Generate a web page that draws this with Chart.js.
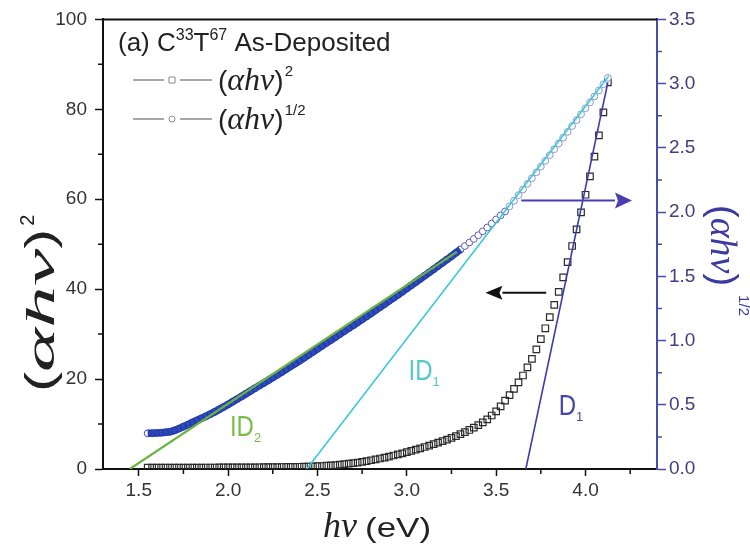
<!DOCTYPE html>
<html>
<head>
<meta charset="utf-8">
<script src="https://cdn.jsdelivr.net/npm/chart.js@4.4.1/dist/chart.umd.min.js"></script>
<style>
  body { margin: 0; background: #fff; }
  #wrap { width: 750px; height: 546px; }
</style>
</head>
<body>
<div id="wrap"><canvas id="tauc" width="750" height="546"></canvas></div>
<script>
const SANS = '"Liberation Sans", Arial, sans-serif';
const SERIF = '"Liberation Serif", "Times New Roman", serif';

// photon energy h nu (eV)
const energy = [
  1.55, 1.575, 1.6, 1.625, 1.65, 1.675, 1.7, 1.725, 1.75, 1.775,
  1.8, 1.825, 1.85, 1.875, 1.9, 1.925, 1.95, 1.975, 2.0, 2.025,
  2.05, 2.075, 2.1, 2.125, 2.15, 2.175, 2.2, 2.225, 2.25, 2.275,
  2.3, 2.325, 2.35, 2.375, 2.4, 2.425, 2.45, 2.475, 2.5, 2.525,
  2.55, 2.575, 2.6, 2.625, 2.65, 2.675, 2.7, 2.725, 2.75, 2.775,
  2.8, 2.825, 2.85, 2.875, 2.9, 2.925, 2.95, 2.975, 3.0, 3.025,
  3.05, 3.075, 3.1, 3.125, 3.15, 3.175, 3.2, 3.225, 3.25, 3.275,
  3.3, 3.325, 3.35, 3.375, 3.4, 3.425, 3.45, 3.475, 3.5, 3.525,
  3.55, 3.575, 3.6, 3.625, 3.65, 3.675, 3.7, 3.725, 3.75, 3.775,
  3.8, 3.825, 3.85, 3.875, 3.9, 3.925, 3.95, 3.975, 4.0, 4.025,
  4.05, 4.075, 4.1, 4.125
];

// (a h nu)^2  -> left axis, open squares
const alphaSq = [
  0.30, 0.30, 0.30, 0.30, 0.30, 0.30, 0.31, 0.31, 0.31, 0.31,
  0.32, 0.32, 0.32, 0.33, 0.33, 0.33, 0.34, 0.34, 0.35, 0.35,
  0.36, 0.36, 0.37, 0.38, 0.38, 0.39, 0.40, 0.41, 0.42, 0.43,
  0.44, 0.45, 0.46, 0.48, 0.50, 0.52, 0.55, 0.58, 0.62, 0.67,
  0.73, 0.80, 0.88, 0.97, 1.07, 1.18, 1.30, 1.43, 1.57, 1.74,
  1.95, 2.14, 2.34, 2.55, 2.77, 3.00, 3.24, 3.49, 3.75, 4.02,
  4.30, 4.59, 4.89, 5.20, 5.52, 5.85, 6.19, 6.55, 6.93, 7.33,
  7.75, 8.20, 8.68, 9.19, 9.74, 10.35, 11.05, 11.90, 12.80, 13.95,
  15.20, 16.45, 17.80, 19.25, 20.80, 22.60, 24.50, 26.60, 28.90, 31.30,
  33.80, 36.50, 39.40, 42.60, 46.00, 49.60, 53.30, 57.10, 61.00, 65.10,
  69.50, 74.20, 79.30, 86.00
];

// (a h nu)^1/2  -> right axis, open circles
const alphaRoot = [
  0.278, 0.279, 0.281, 0.283, 0.286, 0.290, 0.300, 0.314, 0.330, 0.346,
  0.362, 0.378, 0.394, 0.410, 0.427, 0.445, 0.464, 0.483, 0.503, 0.523,
  0.544, 0.565, 0.586, 0.607, 0.628, 0.649, 0.670, 0.691, 0.712, 0.733,
  0.755, 0.777, 0.799, 0.821, 0.843, 0.866, 0.889, 0.912, 0.935, 0.958,
  0.981, 1.004, 1.027, 1.050, 1.073, 1.096, 1.119, 1.142, 1.165, 1.188,
  1.212, 1.236, 1.260, 1.284, 1.308, 1.332, 1.356, 1.380, 1.405, 1.430,
  1.455, 1.480, 1.505, 1.530, 1.555, 1.580, 1.605, 1.631, 1.657, 1.683,
  1.709, 1.736, 1.763, 1.791, 1.820, 1.850, 1.880, 1.911, 1.943, 1.974,
  2.005, 2.045, 2.088, 2.132, 2.176, 2.220, 2.264, 2.309, 2.354, 2.399,
  2.444, 2.489, 2.534, 2.579, 2.624, 2.670, 2.716, 2.762, 2.808, 2.854,
  2.900, 2.947, 2.995, 3.045
];

// linear fits
const fitD1X = [3.666, 4.125];   const fitD1Y = [0, 86];      // left axis
const fitID1X = [2.44, 4.13];    const fitID1Y = [0, 3.06];   // right axis
const fitID2X = [1.45, 3.28];    const fitID2Y = [0, 1.69];   // right axis
const bandEnd = 3.3;             // dense part of the circle series

// ticks
const xTicks = [1.5, 2.0, 2.5, 3.0, 3.5, 4.0];
const yTicks = [0, 20, 40, 60, 80, 100];
const y2Ticks = [0, 0.5, 1.0, 1.5, 2.0, 2.5, 3.0, 3.5];

// annotations (data coordinates)
const blueArrow = { x: [3.64, 4.26], y: 2.09 };   // right axis
const blackArrow = { x: [3.78, 3.44], y: 39.2 };  // left axis
const fitLabels = [
  { text: 'ID', sub: '1', x: 3.01, y: 19.7, color: '#52c9cc' },
  { text: 'ID', sub: '2', x: 2.01, y: 7.3, color: '#78bd4a' },
  { text: 'D', sub: '1', x: 3.85, y: 12.0, color: '#4646a6' }
];

const pts = (xs, ys) => xs.map((v, i) => ({ x: v, y: ys[i] }));

function runs(ctx, list, x, y) {
  let cx = x;
  for (const r of list) {
    ctx.font = r.font;
    if (r.color) ctx.fillStyle = r.color;
    const sx = r.sx || 1, sy = r.sy || 1;
    ctx.save();
    ctx.translate(cx, y + (r.dy || 0));
    ctx.scale(sx, sy);
    ctx.fillText(r.t, 0, 0);
    ctx.restore();
    cx += ctx.measureText(r.t).width * sx + (r.gap || 0);
  }
  return cx;
}

function arrow(ctx, x1, y1, x2, y2, len, half, color) {
  const dir = Math.sign(x2 - x1);
  ctx.strokeStyle = color;
  ctx.fillStyle = color;
  ctx.lineWidth = 2;
  ctx.beginPath();
  ctx.moveTo(x1, y1);
  ctx.lineTo(x2 - dir * len, y2);
  ctx.stroke();
  ctx.beginPath();
  ctx.moveTo(x2, y2);
  ctx.lineTo(x2 - dir * len, y2 - half);
  ctx.lineTo(x2 - dir * (len - 3), y2);
  ctx.lineTo(x2 - dir * len, y2 + half);
  ctx.closePath();
  ctx.fill();
}

const decor = {
  id: 'decor',
  afterDraw(chart) {
    const { ctx, chartArea: a } = chart;
    const { x, y, y2 } = chart.scales;
    ctx.save();

    // top frame line
    ctx.strokeStyle = '#111';
    ctx.lineWidth = 2;
    ctx.beginPath();
    ctx.moveTo(a.left - 1, a.top);
    ctx.lineTo(a.right, a.top);
    ctx.stroke();

    // minor ticks
    ctx.lineWidth = 1.5;
    ctx.beginPath();
    xTicks.map(v => v + 0.25).forEach(v => {
      const px = x.getPixelForValue(v);
      ctx.moveTo(px, a.bottom); ctx.lineTo(px, a.bottom + 5);
    });
    yTicks.slice(0, -1).map(v => v + 10).forEach(v => {
      const py = y.getPixelForValue(v);
      ctx.moveTo(a.left, py); ctx.lineTo(a.left - 5, py);
    });
    ctx.stroke();
    ctx.strokeStyle = '#4b4bab';
    ctx.beginPath();
    y2Ticks.slice(0, -1).map(v => v + 0.25).forEach(v => {
      const py = y2.getPixelForValue(v);
      ctx.moveTo(a.right, py); ctx.lineTo(a.right + 5, py);
    });
    ctx.stroke();

    // arrows
    arrow(ctx, x.getPixelForValue(blueArrow.x[0]), y2.getPixelForValue(blueArrow.y),
      x.getPixelForValue(blueArrow.x[1]), y2.getPixelForValue(blueArrow.y), 17, 8, '#4a3fb0');
    arrow(ctx, x.getPixelForValue(blackArrow.x[0]), y.getPixelForValue(blackArrow.y),
      x.getPixelForValue(blackArrow.x[1]), y.getPixelForValue(blackArrow.y), 17, 7, '#111');

    // fit labels
    fitLabels.forEach(l => {
      runs(ctx, [
        { t: l.text, font: `24px ${SANS}`, color: l.color, sy: 1.2 },
        { t: l.sub, font: `13px ${SANS}`, dy: 6 }
      ], x.getPixelForValue(l.x), y.getPixelForValue(l.y));
    });

    // panel title
    ctx.fillStyle = '#222';
    runs(ctx, [
      { t: '(a) C', font: `26px ${SANS}` },
      { t: '33', font: `16px ${SANS}`, dy: -11 },
      { t: 'T', font: `26px ${SANS}` },
      { t: '67', font: `16px ${SANS}`, dy: -11 },
      { t: ' As-Deposited', font: `26px ${SANS}` }
    ], 118, 51);

    // legend
    const legendRow = (yl, yt, marker, sup) => {
      ctx.strokeStyle = '#8a8a8a';
      ctx.lineWidth = 1.5;
      ctx.beginPath();
      ctx.moveTo(133, yl); ctx.lineTo(164, yl);
      ctx.moveTo(180, yl); ctx.lineTo(212, yl);
      ctx.stroke();
      ctx.lineWidth = 1;
      ctx.beginPath();
      if (marker === 'rect') ctx.rect(169, yl - 3, 6, 6);
      else ctx.arc(172, yl, 3, 0, Math.PI * 2);
      ctx.stroke();
      ctx.fillStyle = '#222';
      runs(ctx, [
        { t: '(', font: `28px ${SANS}` },
        { t: 'αhν', font: `italic 32px ${SERIF}` },
        { t: ')', font: `28px ${SANS}`, gap: 1 },
        { t: sup, font: `15px ${SANS}`, dy: -14 }
      ], 218, yt);
    };
    legendRow(80, 90, 'rect', '2');
    legendRow(119, 129, 'circle', '1/2');

    // x title
    ctx.fillStyle = '#222';
    runs(ctx, [
      { t: 'hν', font: `italic 36px ${SERIF}`, gap: 8 },
      { t: '(eV)', font: `28px ${SANS}`, sx: 1.25 }
    ], 323, 537);

    // left title
    ctx.save();
    ctx.translate(54, 392);
    ctx.rotate(-Math.PI / 2);
    ctx.fillStyle = '#222';
    runs(ctx, [
      { t: '(', font: `40px ${SANS}`, sx: 1.5 },
      { t: 'αhν', font: `italic 40px ${SERIF}`, sx: 2.1 },
      { t: ')', font: `40px ${SANS}`, sx: 1.5, gap: 3 },
      { t: '2', font: `20px ${SANS}`, dy: -20 }
    ], 0, 0);
    ctx.restore();

    // right title
    ctx.save();
    ctx.translate(711, 205);
    ctx.rotate(Math.PI / 2);
    ctx.fillStyle = '#3a3aa0';
    runs(ctx, [
      { t: '(', font: `38px ${SANS}` },
      { t: 'αhν', font: `italic 38px ${SERIF}` },
      { t: ')', font: `38px ${SANS}`, gap: 9 },
      { t: '1/2', font: `15px ${SANS}`, dy: -28 }
    ], 0, 0);
    ctx.restore();

    ctx.restore();
  }
};

const tickFont = { family: SANS, size: 19 };
const circleEdge = c => {
  const v = c.raw ? c.raw.x : 0;
  if (v <= bandEnd) return 'rgba(30,55,170,0.9)';
  if (v <= 3.55) return '#5b5bb4';
  return '#8a98d0';
};

new Chart(document.getElementById('tauc'), {
  type: 'scatter',
  data: {
    datasets: [
      { label: 'D1', data: pts(fitD1X, fitD1Y), yAxisID: 'y', showLine: true,
        borderColor: '#3c3cab', borderWidth: 1.6, pointRadius: 0, order: 1 },
      { label: 'ID1', data: pts(fitID1X, fitID1Y), yAxisID: 'y2', showLine: true,
        borderColor: '#3cc8d6', borderWidth: 1.6, pointRadius: 0, order: 2 },
      { label: 'ID2', data: pts(fitID2X, fitID2Y), yAxisID: 'y2', showLine: true,
        borderColor: '#6cb33f', borderWidth: 2.2, pointRadius: 0, order: 3 },
      { label: '(αhν)^1/2', data: pts(energy, alphaRoot), yAxisID: 'y2', showLine: false,
        pointStyle: 'circle', pointRadius: 3.4, pointBorderWidth: 1,
        pointBorderColor: circleEdge,
        pointBackgroundColor: c => (c.raw && c.raw.x <= bandEnd) ? 'rgba(0,0,0,0)' : '#ffffff',
        order: 4 },
      { label: 'band', data: pts(energy, alphaRoot).filter(p => p.x <= bandEnd), yAxisID: 'y2',
        showLine: true, borderColor: '#2f4cba', borderWidth: 7.5, borderCapStyle: 'butt',
        pointRadius: 0, order: 5 },
      { label: '(αhν)^2', data: pts(energy, alphaSq), yAxisID: 'y', showLine: false,
        pointStyle: 'rect', pointRadius: 4.6, pointBorderWidth: 1.2,
        pointBorderColor: '#2a2a2a', pointBackgroundColor: 'rgba(0,0,0,0)', order: 6 }
    ]
  },
  options: {
    responsive: false,
    animation: false,
    devicePixelRatio: 1,
    layout: { padding: { top: 18, left: 0, right: 0, bottom: 0 } },
    plugins: { legend: { display: false }, tooltip: { enabled: false } },
    scales: {
      x: {
        type: 'linear', min: 1.3, max: 4.4,
        afterBuildTicks: s => { s.ticks = xTicks.map(v => ({ value: v })); },
        afterFit: s => { s.height = 77; },
        ticks: { callback: v => Number(v).toFixed(1), font: tickFont, color: '#333', padding: 3, maxRotation: 0, autoSkip: false },
        grid: { drawOnChartArea: false, tickLength: 7, tickColor: '#111', tickWidth: 1.5 },
        border: { color: '#111', width: 2 }
      },
      y: {
        position: 'left', min: 0, max: 100,
        afterBuildTicks: s => { s.ticks = yTicks.map(v => ({ value: v })); },
        afterFit: s => { s.width = 103; },
        ticks: { font: tickFont, color: '#333', padding: 8 },
        grid: { drawOnChartArea: false, tickLength: 8, tickColor: '#111', tickWidth: 1.5 },
        border: { color: '#111', width: 2 }
      },
      y2: {
        position: 'right', min: 0, max: 3.5,
        afterBuildTicks: s => { s.ticks = y2Ticks.map(v => ({ value: v })); },
        afterFit: s => { s.width = 93; },
        ticks: { callback: v => Number(v).toFixed(1), font: tickFont, color: '#3d3d80', padding: 3 },
        grid: { drawOnChartArea: false, tickLength: 9, tickColor: '#4b4bab', tickWidth: 1.5 },
        border: { color: '#4b4bab', width: 2 }
      }
    }
  },
  plugins: [decor]
});
</script>
</body>
</html>
